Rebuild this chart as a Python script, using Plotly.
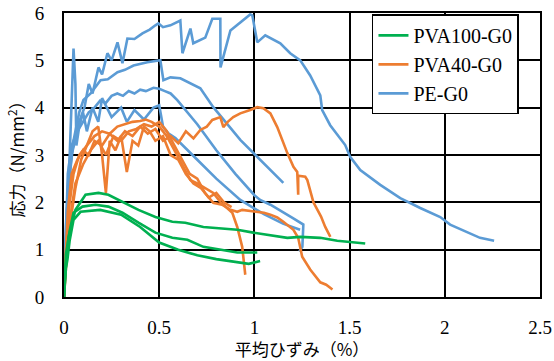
import plotly.graph_objects as go

# ---------------- data (strain %, stress N/mm2) ----------------
pe_a_x = [0, 0.01, 0.02, 0.04, 0.06, 0.08, 0.1, 0.108, 0.13, 0.15, 0.181, 0.2, 0.228, 0.25, 0.281, 0.307, 0.333,
          0.37, 0.412, 0.45, 0.48, 0.496, 0.52, 0.559, 0.611, 0.622, 0.664, 0.679, 0.742, 0.779, 0.821, 0.822,
          0.874, 0.952, 0.978, 0.989, 1.015, 1.057, 1.136, 1.188, 1.241, 1.293, 1.346, 1.356, 1.398, 1.477,
          1.503, 1.556, 1.661, 1.766, 1.871, 1.976, 2.028, 2.185, 2.259]
pe_a_y = [0, 1.5, 2.6, 3.2, 3.4, 3.7, 3.9, 4.01, 4.5, 4.3, 4.85, 4.7, 5.15, 5.0, 5.38, 4.94, 5.46,
          5.45, 5.57, 5.65, 5.74, 5.78, 5.7, 5.74, 5.84, 5.15, 5.67, 5.36, 5.48, 5.88, 5.88, 4.85,
          5.63, 5.88, 5.97, 5.95, 5.38, 5.53, 5.36, 5.15, 5.0, 4.68, 4.26, 3.95, 3.63, 3.21,
          2.96, 2.68, 2.37, 2.09, 1.88, 1.69, 1.53, 1.25, 1.19]

pe_b_x = [0, 0.01, 0.02, 0.05, 0.08, 0.102, 0.14, 0.192, 0.23, 0.281, 0.32, 0.365, 0.438, 0.506, 0.522,
          0.559, 0.611, 0.716, 0.784, 0.926, 1.005, 1.084, 1.152]
pe_b_y = [0, 1.2, 2.2, 3.3, 3.9, 4.16, 4.3, 4.58, 4.6, 4.75, 4.8, 4.89, 4.96, 5.0, 4.58,
          4.64, 4.62, 4.41, 4.01, 3.32, 3.0, 2.68, 2.41]

pe_c_x = [0, 0.01, 0.02, 0.04, 0.07, 0.1, 0.13, 0.16, 0.19, 0.22, 0.25, 0.28, 0.31, 0.34, 0.37, 0.4, 0.43,
          0.47, 0.5, 0.53, 0.56, 0.595, 0.65, 0.7, 0.8, 0.9, 1.0, 1.03, 1.084, 1.15, 1.2, 1.257, 1.252, 1.236]
pe_c_y = [0, 1.2, 2.2, 3.0, 3.5, 3.7, 3.9, 4.0, 4.15, 4.1, 4.25, 4.3, 4.25, 4.35, 4.3, 4.38, 4.35,
          4.42, 4.4, 4.35, 4.3, 4.16, 3.9, 3.65, 3.1, 2.6, 2.15, 2.05, 1.95, 1.8, 1.67, 1.53, 1.06, 0.96]

pe_d_x = [0, 0.01, 0.03, 0.05, 0.06, 0.065, 0.08, 0.1, 0.12, 0.15, 0.18, 0.2, 0.25, 0.3, 0.33, 0.37, 0.42,
          0.47, 0.5, 0.52, 0.55, 0.585, 0.7, 0.8, 0.926, 1.05, 1.15, 1.24]
pe_d_y = [0, 1.5, 3.0, 5.25, 4.5, 3.2, 3.6, 3.9, 3.5, 4.0, 3.7, 4.2, 3.8, 4.0, 3.7, 3.95, 3.75,
          4.0, 4.05, 3.6, 3.45, 3.36, 2.9, 2.5, 2.05, 1.75, 1.55, 1.42]

pva40_a_x = [0, 0.01, 0.02, 0.04, 0.07, 0.1, 0.13, 0.16, 0.2, 0.24, 0.28, 0.32, 0.36, 0.4, 0.44, 0.48, 0.52,
             0.56, 0.6, 0.64, 0.68, 0.716, 0.75, 0.779, 0.821, 0.837, 0.86, 0.889, 0.926, 0.978, 1.015,
             1.047, 1.084, 1.12, 1.152, 1.173, 1.205, 1.225, 1.23, 1.23, 1.267, 1.278, 1.31, 1.35, 1.372, 1.399]
pva40_a_y = [0, 0.8, 1.8, 2.6, 2.9, 3.1, 3.0, 3.3, 3.2, 3.45, 3.3, 3.5, 3.4, 3.6, 3.45, 3.55, 3.3,
             3.4, 3.25, 3.5, 3.35, 3.53, 3.6, 3.74, 3.8, 3.59, 3.7, 3.8, 3.88, 3.95, 4.01,
             3.99, 3.88, 3.59, 3.25, 3.04, 2.75, 2.64, 2.16, 2.56, 2.54, 2.47, 2.0, 1.7, 1.48, 1.27]

pva40_b_x = [0, 0.01, 0.03, 0.05, 0.08, 0.12, 0.16, 0.2, 0.24, 0.28, 0.32, 0.36, 0.4, 0.43, 0.46, 0.5,
             0.54, 0.58, 0.62, 0.664, 0.7, 0.74, 0.784, 0.821, 0.884, 0.91, 0.936, 0.952]
pva40_b_y = [0, 1.0, 2.0, 2.6, 3.0, 3.2, 3.4, 3.5, 3.45, 3.6, 3.65, 3.7, 3.72, 3.75, 3.7, 3.6,
             3.4, 3.1, 2.8, 2.47, 2.4, 2.3, 2.2, 2.01, 1.78, 1.48, 1.06, 0.47]

pva40_c_x = [0, 0.01, 0.03, 0.06, 0.1, 0.14, 0.18, 0.22, 0.26, 0.3, 0.34, 0.38, 0.42, 0.46, 0.5, 0.54,
             0.58, 0.62, 0.66, 0.7, 0.74, 0.784, 0.83, 0.87, 0.91, 0.936, 0.97, 1.015, 1.05, 1.084, 1.12,
             1.152, 1.205, 1.23, 1.251, 1.293, 1.346, 1.377, 1.41]
pva40_c_y = [0, 0.7, 1.6, 2.4, 2.8, 3.1, 3.3, 3.0, 3.4, 3.3, 3.5, 3.55, 3.65, 3.6, 3.7, 3.5,
             3.2, 2.9, 2.6, 2.5, 2.2, 1.99, 1.95, 1.85, 1.8, 1.84, 1.82, 1.8, 1.78, 1.74, 1.68,
             1.59, 1.42, 1.25, 0.85, 0.58, 0.31, 0.26, 0.16]

pva40_d_x = [0, 0.01, 0.03, 0.06, 0.09, 0.12, 0.15, 0.18, 0.2, 0.22, 0.24, 0.27, 0.3, 0.33, 0.36, 0.39,
             0.42, 0.45, 0.48, 0.52, 0.56, 0.6, 0.64, 0.68, 0.72, 0.76, 0.8, 0.84, 0.88]
pva40_d_y = [0, 0.6, 1.5, 2.3, 2.9, 3.2, 3.5, 3.6, 3.0, 2.2, 3.3, 3.1, 3.4, 2.64, 3.3, 3.2,
             3.6, 3.5, 3.3, 3.4, 3.0, 2.9, 2.6, 2.4, 2.3, 2.1, 2.2, 2.0, 1.9]

pva100_a_x = [0, 0.008, 0.024, 0.06, 0.113, 0.181, 0.233, 0.307, 0.391, 0.48, 0.569, 0.637, 0.732, 0.91,
              0.994, 1.173, 1.241, 1.346, 1.435, 1.582]
pva100_a_y = [0, 0.58, 1.27, 1.84, 2.16, 2.2, 2.16, 2.01, 1.84, 1.69, 1.59, 1.57, 1.48, 1.42,
              1.36, 1.25, 1.27, 1.25, 1.19, 1.13]

pva100_b_x = [0, 0.01, 0.03, 0.05, 0.097, 0.165, 0.233, 0.307, 0.391, 0.48, 0.569, 0.648, 0.732, 0.821,
              0.91, 1.015]
pva100_b_y = [0, 0.9, 1.4, 1.78, 1.91, 1.95, 1.91, 1.78, 1.57, 1.36, 1.25, 1.21, 1.06, 1.0,
              0.94, 0.94]

pva100_c_x = [0, 0.01, 0.018, 0.03, 0.05, 0.087, 0.19, 0.3, 0.4, 0.5, 0.6, 0.7, 0.8, 0.9, 0.97, 1.03]
pva100_c_y = [0, 0.6, 0.79, 1.2, 1.63, 1.8, 1.84, 1.74, 1.48, 1.15, 1.0, 0.88, 0.8, 0.74, 0.7, 0.76]

GREEN = "#00B050"
ORANGE = "#ED7D31"
BLUE = "#5B9BD5"

series = [
    ("PE-G0", BLUE, 3, [(pe_a_x, pe_a_y), (pe_b_x, pe_b_y), (pe_c_x, pe_c_y), (pe_d_x, pe_d_y)]),
    ("PVA40-G0", ORANGE, 2, [(pva40_a_x, pva40_a_y), (pva40_b_x, pva40_b_y), (pva40_c_x, pva40_c_y),
                             (pva40_d_x, pva40_d_y)]),
    ("PVA100-G0", GREEN, 1, [(pva100_a_x, pva100_a_y), (pva100_b_x, pva100_b_y), (pva100_c_x, pva100_c_y)]),
]

fig = go.Figure()
for name, color, rank, curves in series:
    for i, (xs, ys) in enumerate(curves):
        fig.add_trace(go.Scatter(
            x=xs, y=ys, mode="lines", name=name, legendgroup=name, showlegend=(i == 0),
            legendrank=rank, line=dict(color=color, width=2.6), hoverinfo="skip"))

SERIF = "Liberation Serif"
JP = "Noto Sans CJK JP"

fig.update_layout(
    width=554, height=361,
    margin=dict(l=63.5, r=14, t=12.5, b=63.5, autoexpand=False),
    paper_bgcolor="white", plot_bgcolor="white",
    font=dict(family=SERIF, size=19, color="black"),
    legend=dict(x=0.647, y=0.995, xanchor="left", yanchor="top",
                bgcolor="white", bordercolor="black", borderwidth=1.5,
                font=dict(family=SERIF, size=20), tracegroupgap=0),
    xaxis=dict(range=[0, 2.5], dtick=0.5, tick0=0, showgrid=True, gridcolor="black", gridwidth=1.8,
               showline=True, linecolor="black", linewidth=1.8, mirror=True, zeroline=False,
               ticks="", ticklabelstandoff=12, automargin=False,
               tickfont=dict(family=SERIF, size=19),
               title=dict(text="平均ひずみ（%）", standoff=10, font=dict(family=JP, size=17))),
    yaxis=dict(range=[0, 6], dtick=1, tick0=0, showgrid=True, gridcolor="black", gridwidth=1.8,
               showline=True, linecolor="black", linewidth=1.8, mirror=True, zeroline=False,
               ticks="", ticklabelstandoff=14, automargin=False,
               tickfont=dict(family=SERIF, size=19),
               title=dict(text="応力（N/mm<sup>2</sup>）", standoff=6, font=dict(family=JP, size=17))),
)

fig.write_html("out.html")
